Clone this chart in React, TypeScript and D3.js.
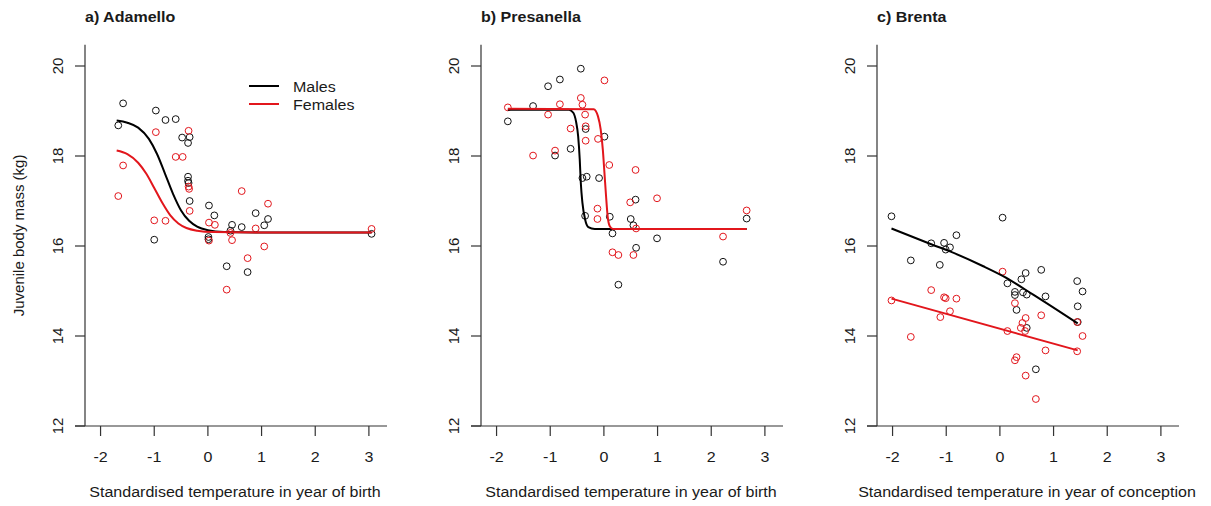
import React from 'react';
import * as d3 from 'd3';

// ── Data ──
const X_TICKS = [-2, -1, 0, 1, 2, 3];
const Y_TICKS = [12, 14, 16, 18, 20];

const adamelloMales: [number, number][] = [
  [-1.58, 19.17], [-1.67, 18.68], [-0.97, 19.01], [-0.79, 18.8], [-0.6, 18.82],
  [-0.48, 18.41], [-0.34, 18.42], [-0.37, 18.29], [-0.37, 17.54], [-0.37, 17.45],
  [-0.36, 17.4], [-0.34, 17.0], [-1.0, 16.14], [0.02, 16.9], [0.12, 16.68],
  [0.01, 16.2], [0.01, 16.15], [0.45, 16.47], [0.42, 16.34], [0.63, 16.42],
  [0.35, 15.55], [0.74, 15.42], [0.89, 16.73], [1.05, 16.46], [1.12, 16.6],
  [3.05, 16.27],
];
const adamelloFemales: [number, number][] = [
  [-1.67, 17.11], [-1.58, 17.79], [-0.97, 18.53], [-1.0, 16.57], [-0.79, 16.56],
  [-0.6, 17.98], [-0.47, 17.98], [-0.36, 18.56], [-0.36, 17.32], [-0.35, 17.27],
  [-0.34, 16.78], [0.02, 16.52], [0.02, 16.12], [0.13, 16.47], [0.42, 16.29],
  [0.45, 16.13], [0.63, 17.22], [0.74, 15.73], [0.35, 15.03], [0.89, 16.39],
  [1.05, 15.99], [1.12, 16.94], [3.05, 16.38],
];
const adamelloMaleFit: [number, number][] = [
  [-1.7, 18.79], [-1.5, 18.74], [-1.3, 18.63], [-1.1, 18.38], [-0.95, 18.05],
  [-0.8, 17.61], [-0.65, 17.16], [-0.5, 16.79], [-0.35, 16.56], [-0.2, 16.43],
  [0, 16.35], [0.3, 16.31], [1, 16.3], [3.05, 16.3],
];
const adamelloFemaleFit: [number, number][] = [
  [-1.7, 18.12], [-1.5, 18.04], [-1.3, 17.85], [-1.15, 17.61], [-1.0, 17.29],
  [-0.85, 16.96], [-0.7, 16.68], [-0.55, 16.5], [-0.4, 16.4], [-0.2, 16.34],
  [0.1, 16.31], [1, 16.3], [3.05, 16.3],
];

const presanellaMales: [number, number][] = [
  [-1.79, 18.77], [-1.32, 19.11], [-1.04, 19.55], [-0.82, 19.7], [-0.43, 19.94],
  [-0.91, 18.01], [-0.62, 18.16], [-0.34, 18.6], [0.01, 18.43], [-0.4, 17.51],
  [-0.32, 17.54], [-0.09, 17.51], [-0.35, 16.67], [0.11, 16.65], [0.16, 16.28],
  [0.59, 17.03], [0.5, 16.6], [0.55, 16.46], [0.6, 15.96], [0.99, 16.17],
  [0.27, 15.14], [2.22, 15.65], [2.66, 16.61],
];
const presanellaFemales: [number, number][] = [
  [-1.79, 19.08], [-1.32, 18.01], [-1.04, 18.92], [-0.82, 19.15], [-0.91, 18.12],
  [-0.62, 18.61], [-0.43, 19.29], [-0.4, 19.14], [-0.35, 18.92], [-0.34, 18.66],
  [-0.34, 18.34], [0.01, 19.68], [-0.11, 18.38], [0.1, 17.8], [0.59, 17.69],
  [0.99, 17.06], [0.49, 16.97], [-0.12, 16.83], [-0.12, 16.6], [0.6, 16.39],
  [0.16, 15.86], [0.27, 15.8], [0.55, 15.8], [2.22, 16.21], [2.66, 16.79],
];
const presanellaMaleFit: [number, number][] = [
  [-1.79, 19.03], [-0.65, 19.03], [-0.57, 18.96], [-0.52, 18.77], [-0.48, 18.44],
  [-0.45, 17.92], [-0.43, 17.4], [-0.4, 16.96], [-0.35, 16.59], [-0.29, 16.42],
  [-0.17, 16.38], [2.66, 16.38],
];
const presanellaFemaleFit: [number, number][] = [
  [-1.79, 19.05], [-0.19, 19.04], [-0.11, 18.88], [-0.06, 18.59], [-0.02, 18.14],
  [0.01, 17.63], [0.04, 17.11], [0.07, 16.66], [0.11, 16.44], [0.17, 16.38],
  [2.66, 16.38],
];

const brentaMales: [number, number][] = [
  [-2.02, 16.66], [0.05, 16.63], [-0.81, 16.24], [-1.28, 16.06], [-1.04, 16.07],
  [-0.93, 15.97], [-1.01, 15.92], [-1.66, 15.68], [-1.12, 15.58], [0.48, 15.4],
  [0.77, 15.47], [0.4, 15.26], [0.14, 15.17], [0.28, 14.98], [0.28, 14.91],
  [0.43, 14.97], [0.5, 14.92], [0.85, 14.88], [0.31, 14.58], [1.44, 15.22],
  [1.54, 14.99], [1.45, 14.66], [1.45, 14.31], [0.5, 14.18], [0.67, 13.26],
];
const brentaFemales: [number, number][] = [
  [-2.02, 14.79], [-1.66, 13.98], [-1.28, 15.02], [-1.04, 14.86], [-1.01, 14.84],
  [-0.81, 14.83], [-1.11, 14.42], [-0.93, 14.55], [0.05, 15.43], [0.28, 14.73],
  [0.14, 14.11], [0.48, 14.4], [0.42, 14.29], [0.39, 14.18], [0.47, 14.11],
  [0.77, 14.46], [0.85, 13.68], [0.31, 13.53], [0.28, 13.46], [0.48, 13.12],
  [0.67, 12.6], [1.44, 14.31], [1.54, 14.0], [1.44, 13.66],
];
const brentaMaleFit: [number, number][] = [
  [-2.02, 16.39], [-1.28, 16.04], [-0.93, 15.88], [-0.31, 15.55], [0.06, 15.33],
  [0.62, 14.92], [1.45, 14.28],
];
const brentaFemaleFit: [number, number][] = [
  [-2.02, 14.83], [1.45, 13.68],
];

const PANELS = [
  { title: 'a) Adamello', xlab: 'Standardised temperature in year of birth',
    males: adamelloMales, females: adamelloFemales, maleFit: adamelloMaleFit, femaleFit: adamelloFemaleFit, legend: true },
  { title: 'b) Presanella', xlab: 'Standardised temperature in year of birth',
    males: presanellaMales, females: presanellaFemales, maleFit: presanellaMaleFit, femaleFit: presanellaFemaleFit, legend: false },
  { title: 'c) Brenta', xlab: 'Standardised temperature in year of conception',
    males: brentaMales, females: brentaFemales, maleFit: brentaMaleFit, femaleFit: brentaFemaleFit, legend: false },
];

const W = 1211;
const H = 506;
const STEP = 396;
const FONT = '"Liberation Sans", Arial, Helvetica, sans-serif';
const FS = 15;
const SX = 1.07; // the source image is slightly wider than tall
const RED = '#e2161c';
const AXIS = '#333';
const TXT = '#1a1a1a';

// horizontal text, stretched a little like the source
function HText({ x, y, anchor = 'start', bold = false, children }:
  { x: number; y: number; anchor?: string; bold?: boolean; children: React.ReactNode }) {
  return (
    <text transform={`translate(${x},${y}) scale(${SX},1)`} textAnchor={anchor}
      fontFamily={FONT} fontSize={FS} fontWeight={bold ? 'bold' : 'normal'} fill={TXT}>{children}</text>
  );
}

function Panel({ i, p }: { i: number; p: typeof PANELS[number] }) {
  const off = i * STEP;
  const x = d3.scaleLinear().domain([-2.29, 3.3]).range([85 + off, 385 + off]);
  const y = d3.scaleLinear().domain([12, 20]).range([426, 66]);
  const line = d3.line<[number, number]>()
    .x(d => x(d[0]))
    .y(d => y(d[1]))
    .curve(d3.curveMonotoneX);
  const [x0, x1] = x.range();
  const yTop = y(20.47);
  const yBot = y(12);

  return (
    <g>
      <HText x={x0} y={22} bold>{p.title}</HText>

      {/* axes */}
      <line x1={x0} x2={x0} y1={yTop} y2={yBot} stroke={AXIS} strokeWidth={1.2} />
      <line x1={x0 - 10} x2={x1 + 2} y1={yBot} y2={yBot} stroke={AXIS} strokeWidth={1.2} />
      {Y_TICKS.map(t => (
        <g key={'y' + t}>
          <line x1={x0 - 10} x2={x0} y1={y(t)} y2={y(t)} stroke={AXIS} strokeWidth={1.2} />
          <text transform={`translate(${x0 - 22},${y(t)}) rotate(-90)`} textAnchor="middle"
            fontFamily={FONT} fontSize={FS} fill={TXT}>{t}</text>
        </g>
      ))}
      {X_TICKS.map(t => (
        <g key={'x' + t}>
          <line x1={x(t)} x2={x(t)} y1={yBot} y2={yBot + 10} stroke={AXIS} strokeWidth={1.2} />
          <HText x={x(t)} y={461.5} anchor="middle">{t}</HText>
        </g>
      ))}
      <HText x={(x0 + x1) / 2} y={497} anchor="middle">{p.xlab}</HText>

      {/* points */}
      {p.males.map((d, k) => (
        <circle key={'m' + k} cx={x(d[0])} cy={y(d[1])} r={3.4} fill="none" stroke="#111" strokeWidth={1} />
      ))}
      {p.females.map((d, k) => (
        <circle key={'f' + k} cx={x(d[0])} cy={y(d[1])} r={3.4} fill="none" stroke={RED} strokeWidth={1} />
      ))}

      {/* fitted lines */}
      <path d={line(p.maleFit) ?? ''} fill="none" stroke="#000" strokeWidth={2} />
      <path d={line(p.femaleFit) ?? ''} fill="none" stroke={RED} strokeWidth={2} />

      {p.legend && (
        <g>
          <line x1={249 + off} x2={279 + off} y1={86} y2={86} stroke="#000" strokeWidth={2} />
          <HText x={293 + off} y={91.5}>Males</HText>
          <line x1={249 + off} x2={279 + off} y1={104} y2={104} stroke={RED} strokeWidth={2} />
          <HText x={293 + off} y={109.5}>Females</HText>
        </g>
      )}
    </g>
  );
}

export default function App() {
  const yMid = (d3.scaleLinear().domain([12, 20]).range([426, 66])(20.47) + 426) / 2;
  return (
    <div style={{ position: 'fixed', left: 0, top: 0 }}>
      <svg width={W} height={H} style={{ display: 'block', background: '#fff' }}>
        <text transform={`translate(24,${yMid}) rotate(-90)`} textAnchor="middle"
          fontFamily={FONT} fontSize={FS} fill={TXT}>Juvenile body mass (kg)</text>
        {PANELS.map((p, i) => <Panel key={i} i={i} p={p} />)}
      </svg>
    </div>
  );
}
